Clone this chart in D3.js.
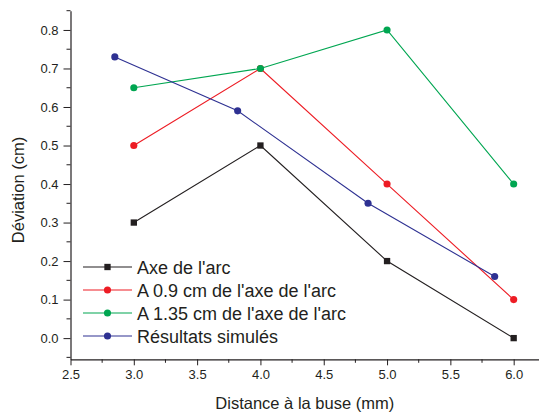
<!DOCTYPE html>
<html>
<head>
<meta charset="utf-8">
<script src="https://cdn.jsdelivr.net/npm/d3@7"></script>
<style>
  body { margin: 0; background: #fff; }
  svg { display: block; }
  text { font-family: "Liberation Sans", Arial, sans-serif; fill: #231f20; }
</style>
</head>
<body>
<svg id="chart" width="539" height="412"></svg>
<script>
const seriesNames = ["Axe de l'arc", "A 0.9 cm de l'axe de l'arc", "A 1.35 cm de l'axe de l'arc", "Résultats simulés"];
const seriesColors = ["#231f20", "#ed1c24", "#00a651", "#2e3192"];
const seriesSymbols = ["square", "circle", "circle", "circle"];
const xAxe = [3.0, 4.0, 5.0, 6.0];
const yAxe = [0.3, 0.5, 0.2, 0.0];
const x09 = [3.0, 4.0, 5.0, 6.0];
const y09 = [0.5, 0.7, 0.4, 0.1];
const x135 = [3.0, 4.0, 5.0, 6.0];
const y135 = [0.65, 0.7, 0.8, 0.4];
const xSim = [2.85, 3.82, 4.85, 5.85];
const ySim = [0.73, 0.59, 0.35, 0.16];
const xTicks = [2.5, 3.0, 3.5, 4.0, 4.5, 5.0, 5.5, 6.0];
const yTicks = [0.0, 0.1, 0.2, 0.3, 0.4, 0.5, 0.6, 0.7, 0.8];
const xTitle = "Distance à la buse (mm)";
const yTitle = "Déviation (cm)";

const series = [
  { xs: xAxe, ys: yAxe },
  { xs: x09, ys: y09 },
  { xs: x135, ys: y135 },
  { xs: xSim, ys: ySim }
].map((s, i) => ({
  name: seriesNames[i], color: seriesColors[i], symbol: seriesSymbols[i],
  points: s.xs.map((x, j) => ({ x, y: s.ys[j] }))
}));

const svg = d3.select("#chart");
const mLeft = 70.5, mRight = 539, mTop = 10.7, mBottom = 359.3;
const x = d3.scaleLinear().domain([2.5, 6.2]).range([mLeft, mRight]);
const y = d3.scaleLinear().domain([-0.055, 0.85]).range([mBottom, mTop]);

const axisColor = "#231f20";
const xMinor = d3.range(2.75, 6.2, 0.5);
const yMinor = d3.range(-0.05, 0.851, 0.1);

// X axis
const gx = svg.append("g").attr("transform", `translate(0,${mBottom})`);
gx.call(d3.axisBottom(x).tickValues(xTicks).tickFormat(d3.format(".1f")).tickSize(6).tickSizeOuter(0).tickPadding(4));
gx.append("g").selectAll("line").data(xMinor).join("line")
  .attr("x1", d => x(d)).attr("x2", d => x(d)).attr("y1", 0).attr("y2", 3.5)
  .attr("stroke", axisColor);

// Y axis
const gy = svg.append("g").attr("transform", `translate(${mLeft},0)`);
gy.call(d3.axisLeft(y).tickValues(yTicks).tickFormat(d3.format(".1f")).tickSize(7).tickSizeOuter(0).tickPadding(5));
gy.append("g").selectAll("line").data(yMinor).join("line")
  .attr("y1", d => y(d)).attr("y2", d => y(d)).attr("x1", 0).attr("x2", -4)
  .attr("stroke", axisColor);

svg.selectAll(".domain").attr("stroke", axisColor).attr("stroke-width", 1.2);
svg.selectAll(".tick line").attr("stroke", axisColor);
svg.selectAll(".tick text").attr("font-size", 13).attr("fill", "#231f20")
  .attr("font-family", "Liberation Sans, Arial, sans-serif");

// Titles
svg.append("text").attr("x", (mLeft + mRight) / 2).attr("y", 409)
  .attr("text-anchor", "middle").attr("font-size", 16.5).text(xTitle);
svg.append("text").attr("transform", `translate(24,${(mTop + mBottom) / 2 + 5}) rotate(-90)`)
  .attr("text-anchor", "middle").attr("font-size", 16.5).text(yTitle);

// Lines & markers
const line = d3.line().x(d => x(d.x)).y(d => y(d.y));
series.forEach(s => {
  svg.append("path").datum(s.points).attr("d", line)
    .attr("fill", "none").attr("stroke", s.color).attr("stroke-width", 1.1);
  const sym = d3.symbol().type(s.symbol === "square" ? d3.symbolSquare : d3.symbolCircle).size(40);
  svg.append("g").selectAll("path").data(s.points).join("path")
    .attr("transform", d => `translate(${x(d.x)},${y(d.y)})`)
    .attr("d", sym).attr("fill", s.color);
});

// Legend
const legY0 = 267, legDy = 23;
const leg = svg.append("g");
series.forEach((s, i) => {
  const yy = legY0 + i * legDy;
  leg.append("line").attr("x1", 83).attr("x2", 132).attr("y1", yy).attr("y2", yy)
    .attr("stroke", s.color).attr("stroke-width", 1.1);
  const sym = d3.symbol().type(s.symbol === "square" ? d3.symbolSquare : d3.symbolCircle).size(40);
  leg.append("path").attr("transform", `translate(107.5,${yy})`).attr("d", sym).attr("fill", s.color);
  leg.append("text").attr("x", 137).attr("y", yy + 6.5).attr("font-size", 18).text(s.name);
});
</script>
</body>
</html>
